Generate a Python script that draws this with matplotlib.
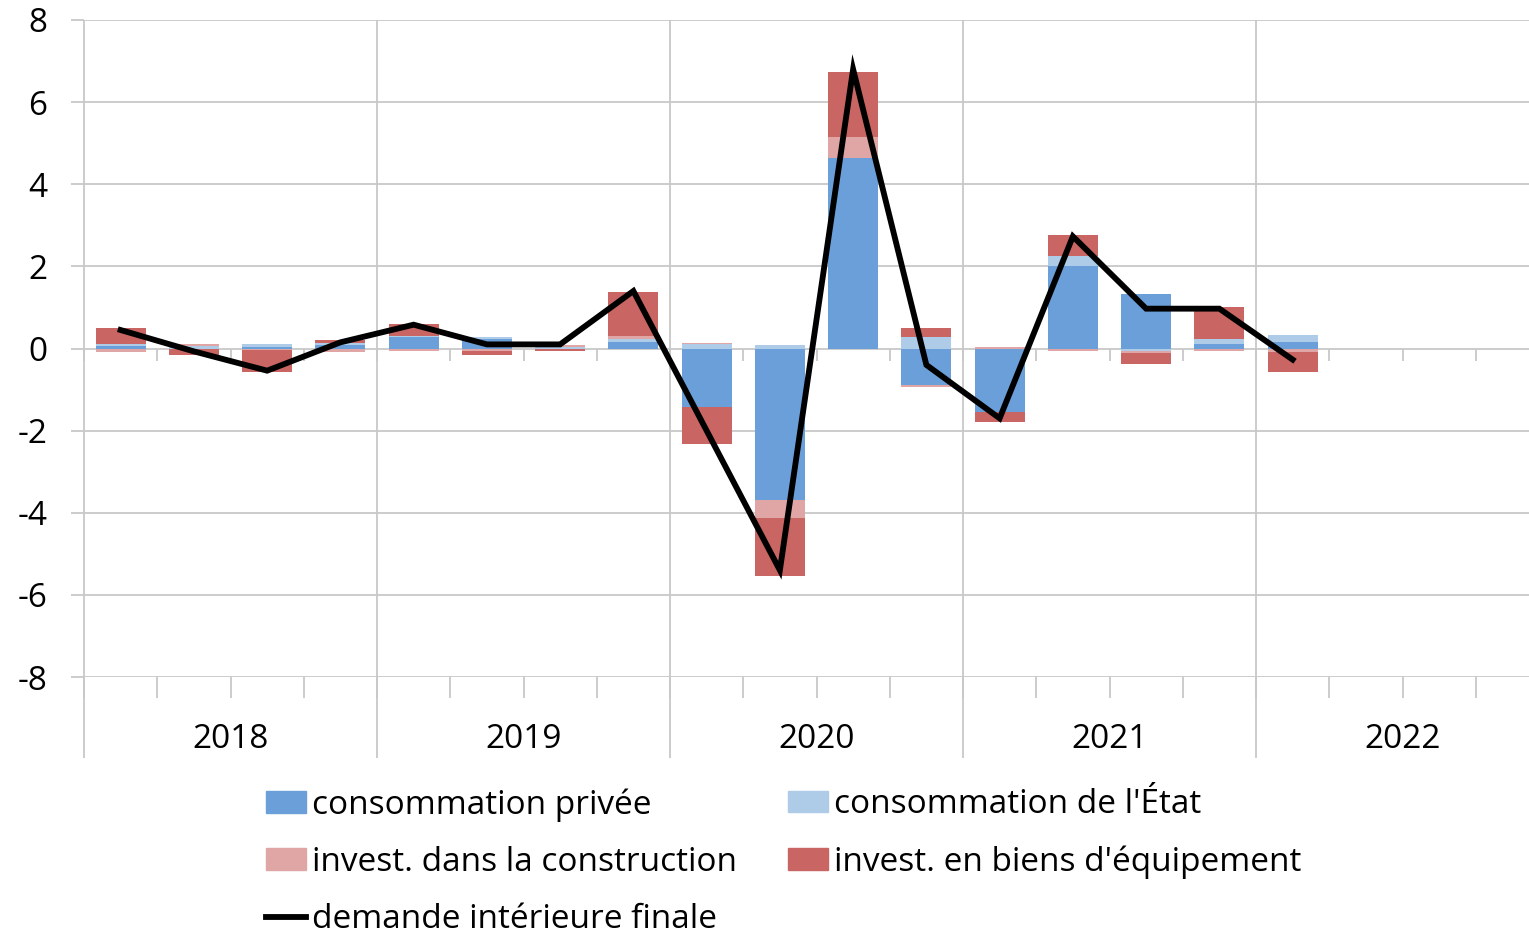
import numpy as np
import matplotlib.pyplot as plt
from matplotlib.patches import Patch
from matplotlib.lines import Line2D

plt.rcParams['font.family'] = ['Open Sans', 'DejaVu Sans']
plt.rcParams['axes.unicode_minus'] = False

# Data (contributions, 2018Q1 - 2022Q1)
years = ['2018', '2019', '2020', '2021', '2022']
priv = [0.05, 0.00, 0.04, 0.08, 0.28, 0.22, 0.00, 0.17, -1.42, -3.68, 4.64, -0.90, -1.54, 2.02, 1.33, 0.12, 0.15]
state = [0.05, 0.05, 0.06, 0.05, 0.02, 0.05, 0.03, 0.07, 0.10, 0.08, 0.00, 0.27, 0.00, 0.23, -0.05, 0.12, 0.17]
constr = [-0.08, 0.05, -0.03, -0.08, -0.06, -0.05, 0.05, 0.07, 0.03, -0.45, 0.51, -0.04, 0.04, -0.07, -0.05, -0.06, -0.08]
equip = [0.40, -0.17, -0.55, 0.08, 0.29, -0.12, -0.07, 1.06, -0.90, -1.40, 1.58, 0.23, -0.24, 0.51, -0.27, 0.76, -0.50]
final = [0.45, -0.07, -0.54, 0.15, 0.58, 0.10, 0.10, 1.40, -2.00, -5.40, 6.80, -0.40, -1.70, 2.73, 0.97, 0.97, -0.27]

labels = ['consommation privée', "consommation de l'État",
          'invest. dans la construction', "invest. en biens d'équipement"]
line_label = 'demande intérieure finale'
colors = ['#6a9fda', '#aecbe8', '#e0a6a6', '#c96563']
grid_c = '#c8c8c8'
fs = 24

W, H = 1529, 933
fig = plt.figure(figsize=(W / 100, H / 100), dpi=100)
ax = fig.add_axes([84 / W, 1 - 677 / H, (W - 84) / W, (677 - 20) / H])

x = np.arange(len(final))
pos = np.zeros(len(x))
neg = np.zeros(len(x))
for vals, c in zip([priv, state, constr, equip], colors):
    v = np.array(vals)
    bottom = np.where(v >= 0, pos, neg)
    ax.bar(x, v, bottom=bottom, width=0.68, color=c, zorder=2)
    pos += np.where(v >= 0, v, 0)
    neg += np.where(v < 0, v, 0)

ax.plot(x, final, color='black', lw=4.2, zorder=3, solid_joinstyle='miter')

nq = len(years) * 4
ax.set_xlim(-0.5, -0.5 + (W - 84) / 73.25)
ax.set_ylim(-8, 8)
ax.set_yticks(np.arange(-8, 9, 2))
ax.tick_params(axis='y', length=9.5, color=grid_c, width=1.3, pad=17, labelsize=fs)
ax.set_xticks([])
for s in ax.spines.values():
    s.set_visible(False)
for yv in np.arange(-8, 9, 2):
    ax.axhline(yv, color=grid_c, lw=1.3, zorder=1)

# category axis: quarter ticks on zero line and below, year separators
bounds = np.arange(nq + 1) - 0.5
per = 16 / 657
ax.vlines(bounds, 0, -12 * per, color=grid_c, lw=1.3, zorder=1, clip_on=False)
ax.vlines(bounds, -8, -8 - 21 * per, color=grid_c, lw=1.3, zorder=1, clip_on=False)
ax.vlines(bounds[::4], 8, -8 - 81 * per, color=grid_c, lw=1.3, zorder=1, clip_on=False)
for i, yr in enumerate(years):
    ax.text(i * 4 + 1.5, -8 - 63 * per, yr, ha='center', va='center', fontsize=fs)

leg_kw = dict(frameon=False, fontsize=fs, handlelength=1.2, handleheight=0.6,
              handletextpad=0.18, labelspacing=0.72, borderpad=0, borderaxespad=0,
              loc='center left')
fig.legend([Patch(color=colors[0]), Patch(color=colors[2]),
            Line2D([0], [0], color='black', lw=4.2)],
           [labels[0], labels[2], line_label],
           bbox_to_anchor=(266 / W, 1 - 862 / H), **leg_kw)
fig.legend([Patch(color=colors[1]), Patch(color=colors[3])],
           [labels[1], labels[3]],
           bbox_to_anchor=(788 / W, 1 - 833.5 / H), **leg_kw)

fig.savefig('out.png', dpi=100)
